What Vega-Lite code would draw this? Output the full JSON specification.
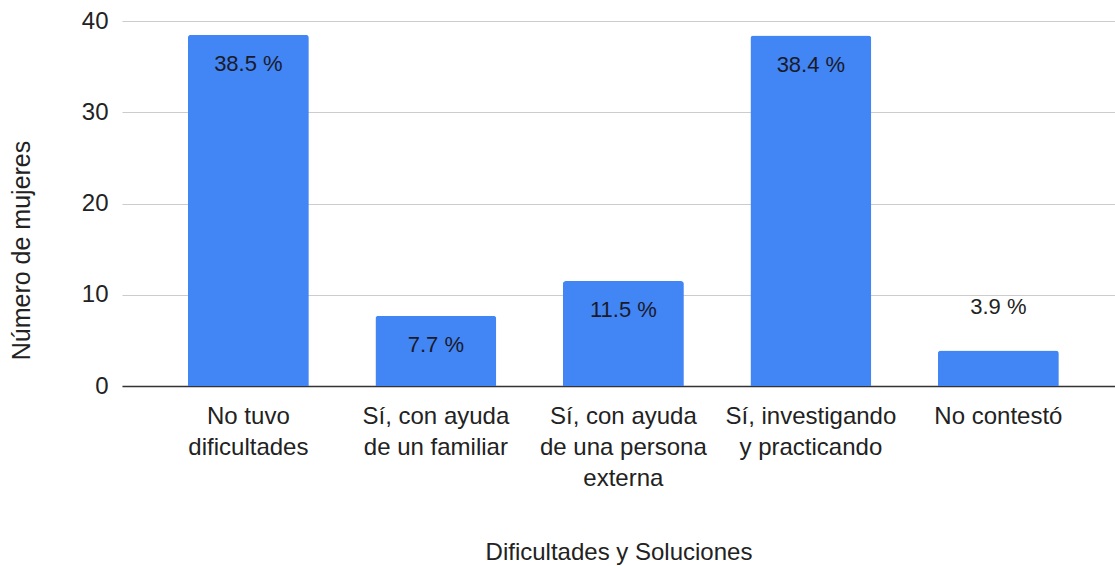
{
  "$schema": "https://vega.github.io/schema/vega-lite/v6.json",
  "width": 993,
  "height": 365,
  "autosize": "none",
  "padding": {"left": 122, "top": 21, "right": 0, "bottom": 180},
  "background": "white",
  "config": {
    "view": {"stroke": null},
    "font": "Liberation Sans"
  },
  "data": {
    "values": [
      {"categoria": "No tuvo\ndificultades", "valor": 38.5, "etiqueta": "38.5 %"},
      {"categoria": "Sí, con ayuda\nde un familiar", "valor": 7.7, "etiqueta": "7.7 %"},
      {"categoria": "Sí, con ayuda\nde una persona\nexterna", "valor": 11.5, "etiqueta": "11.5 %"},
      {"categoria": "Sí, investigando\ny practicando", "valor": 38.4, "etiqueta": "38.4 %"},
      {"categoria": "No contestó", "valor": 3.9, "etiqueta": "3.9 %"}
    ]
  },
  "encoding": {
    "x": {
      "field": "categoria",
      "type": "nominal",
      "sort": null,
      "scale": {"paddingInner": 0.355, "paddingOuter": 0.3255, "align": 0.54},
      "axis": {
        "title": "Dificultades y Soluciones",
        "labelExpr": "split(datum.value, '\\n')",
        "labelAngle": 0,
        "labelFontSize": 24,
        "labelColor": "#222222",
        "labelPadding": 18,
        "labelLineHeight": 31,
        "labelBaseline": "top",
        "ticks": false,
        "domainColor": "#333333",
        "domainWidth": 1.5,
        "titleFontSize": 24,
        "titleFontWeight": "normal",
        "titleColor": "#222222",
        "titleY": 166,
        "titleBaseline": "middle"
      }
    },
    "y": {
      "field": "valor",
      "type": "quantitative",
      "scale": {"domain": [0, 40]},
      "axis": {
        "title": "Número de mujeres",
        "values": [0, 10, 20, 30, 40],
        "labelFontSize": 24,
        "labelColor": "#222222",
        "labelPadding": 14,
        "ticks": false,
        "domain": false,
        "gridColor": "#cccccc",
        "gridWidth": 1,
        "titleFontSize": 25,
        "titleFontWeight": "normal",
        "titleColor": "#222222",
        "titleX": -101,
        "titleY": 229,
        "titleBaseline": "middle",
        "titleAlign": "center"
      }
    }
  },
  "layer": [
    {
      "mark": {"type": "bar", "color": "#4285F4", "cornerRadiusTopLeft": 3, "cornerRadiusTopRight": 3}
    },
    {
      "transform": [{"filter": "datum.valor > 5"}],
      "mark": {"type": "text", "baseline": "middle", "dy": 29, "fontSize": 22, "color": "#1a1a2a"},
      "encoding": {"text": {"field": "etiqueta"}}
    },
    {
      "transform": [{"filter": "datum.valor <= 5"}],
      "mark": {"type": "text", "baseline": "middle", "dy": -43, "fontSize": 22, "color": "#222222"},
      "encoding": {"text": {"field": "etiqueta"}}
    }
  ]
}
